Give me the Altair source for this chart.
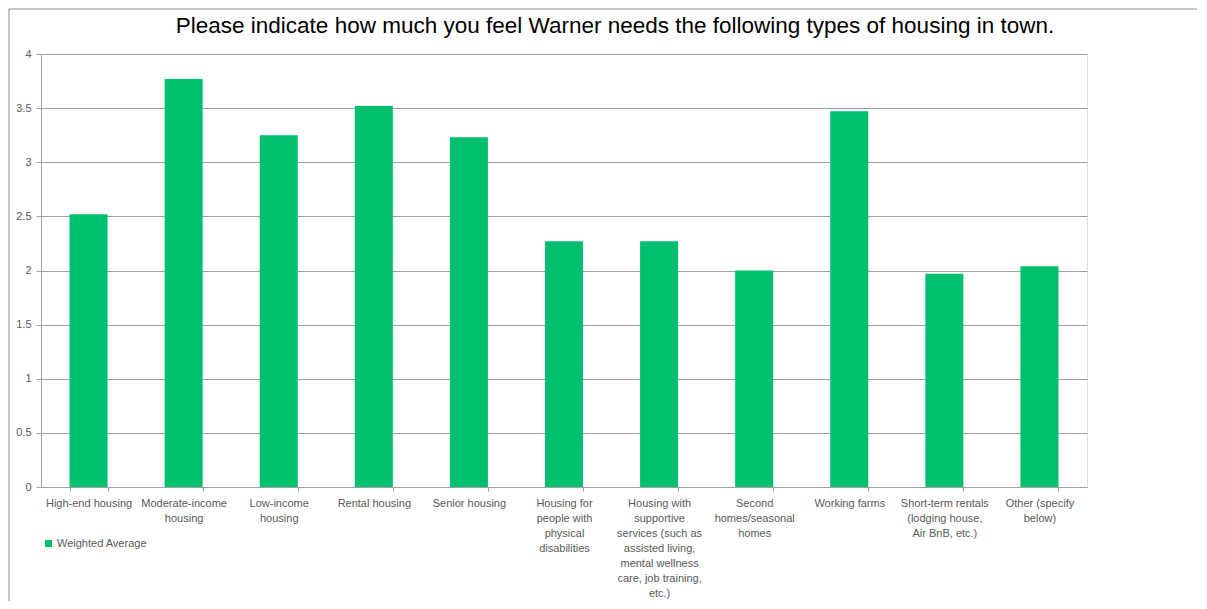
import altair as alt
import pandas as pd

categories = [
    "High-end housing",
    "Moderate-income\nhousing",
    "Low-income\nhousing",
    "Rental housing",
    "Senior housing",
    "Housing for\npeople with\nphysical\ndisabilities",
    "Housing with\nsupportive\nservices (such as\nassisted living,\nmental wellness\ncare, job training,\netc.)",
    "Second\nhomes/seasonal\nhomes",
    "Working farms",
    "Short-term rentals\n(lodging house,\nAir BnB, etc.)",
    "Other (specify\nbelow)",
]
values = [2.52, 3.77, 3.25, 3.52, 3.23, 2.27, 2.27, 2.00, 3.47, 1.97, 2.04]
series_name = "Weighted Average"
y_ticks = [0, 0.5, 1, 1.5, 2, 2.5, 3, 3.5, 4]
title_text = "Please indicate how much you feel Warner needs the following types of housing in town."

df = pd.DataFrame({"category": categories, "value": values, "series": series_name})

W, H = 1046, 433
PL, PT, PR, PB = 33, 46, 110, 114
FONT = "Liberation Sans"
GRAY = "#595959"
LINE = "#a0a0a0"
GREEN = "#00BF6F"

bars = alt.Chart(df).mark_bar(color=GREEN).encode(
    x=alt.X(
        "category:N",
        sort=categories,
        title=None,
        scale=alt.Scale(paddingInner=0.6, paddingOuter=0.3),
        axis=alt.Axis(
            labelAngle=0,
            labelExpr="split(datum.label, '\\n')",
            labelLimit=0,
            labelLineHeight=15,
            labelBaseline="top",
            labelPadding=6,
            labelFont=FONT,
            labelFontSize=11,
            labelColor=GRAY,
            tickBand="extent",
            tickSize=4,
            tickColor=LINE,
            domainColor=LINE,
            grid=False,
        ),
    ),
    y=alt.Y(
        "value:Q",
        title=None,
        scale=alt.Scale(domain=[0, 4], nice=False),
        axis=alt.Axis(
            values=y_ticks,
            format="~g",
            labelFont=FONT,
            labelFontSize=11,
            labelColor=GRAY,
            labelPadding=5,
            tickSize=5,
            tickColor=LINE,
            domainColor=LINE,
            gridColor=LINE,
            gridWidth=1,
        ),
    ),
    color=alt.Color(
        "series:N",
        scale=alt.Scale(domain=[series_name], range=[GREEN]),
        legend=alt.Legend(
            title=None,
            orient="none",
            legendX=2,
            legendY=484,
            symbolType="square",
            symbolSize=49,
            symbolStrokeWidth=0,
            labelFont=FONT,
            labelFontSize=11,
            labelColor=GRAY,
            labelOffset=3,
        ),
    ),
)

title = alt.Chart(alt.Data(values=[{"t": title_text}])).mark_text(
    font=FONT, fontSize=22.5, color="#000000", align="center", baseline="alphabetic"
).encode(text="t:N", x=alt.value(574), y=alt.value(-21))

border_left = alt.Chart(alt.Data(values=[{}])).mark_rule(color="#8c8c8c", strokeWidth=1).encode(
    x=alt.value(-PL + 1), y=alt.value(-PT + 1), y2=alt.value(H + PB)
)
border_top = alt.Chart(alt.Data(values=[{}])).mark_rule(color="#8c8c8c", strokeWidth=1).encode(
    x=alt.value(-PL + 1), x2=alt.value(W + PR), y=alt.value(-PT + 1)
)

chart = alt.layer(border_left, border_top, bars, title).properties(
    width=W,
    height=H,
    autosize=alt.AutoSizeParams(type="none"),
    padding={"left": PL, "top": PT, "right": PR, "bottom": PB},
).configure_view(stroke=None).configure(background="white")

chart.save("out.html", embed_options={"renderer": "svg", "actions": False})
